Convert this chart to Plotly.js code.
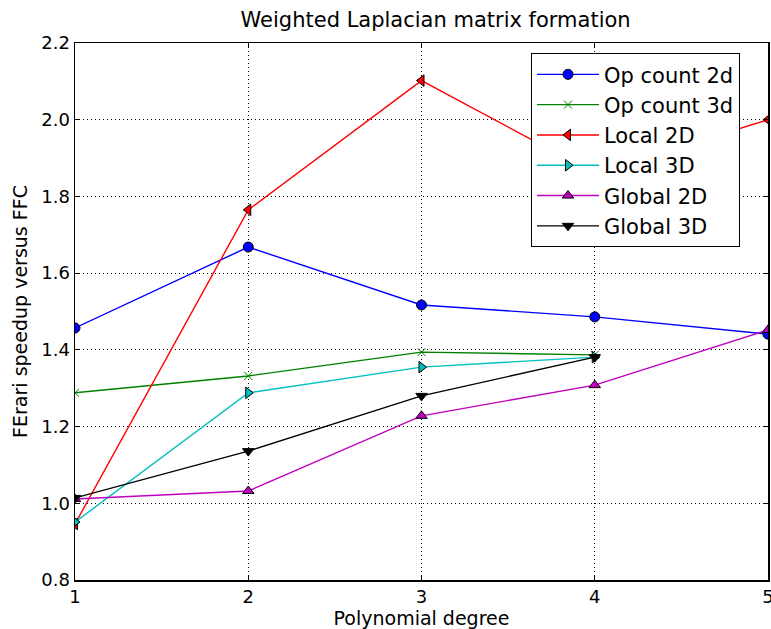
<!DOCTYPE html>
<html>
<head>
<meta charset="utf-8">
<script src="https://cdn.plot.ly/plotly-3.0.1.min.js"></script>
<style>html,body{margin:0;padding:0;background:#fff;}#chart{width:771px;height:629px;}</style>
</head>
<body>
<div id="chart"></div>
<script>
const degrees2D = [1, 2, 3, 4, 5];
const degrees3D = [1, 2, 3, 4];
const opCount2d = [1.457, 1.668, 1.517, 1.486, 1.441];
const opCount3d = [1.288, 1.332, 1.394, 1.387];
const local2D = [0.946, 1.765, 2.102, 1.86, 2.0];
const local3D = [0.951, 1.288, 1.355, 1.381];
const global2D = [1.011, 1.032, 1.228, 1.308, 1.452];
const global3D = [1.014, 1.136, 1.280, 1.381];
const xTicks = [1, 2, 3, 4, 5];
const yTicks = [0.8, 1.0, 1.2, 1.4, 1.6, 1.8, 2.0, 2.2];
const yTickText = ['0.8', '1.0', '1.2', '1.4', '1.6', '1.8', '2.0', '2.2'];

function tr(name, x, y, color, symbol, fill) {
  const isX = symbol === 'x-thin-open';
  return {
    type: 'scatter', mode: 'lines+markers', name: name, x: x, y: y,
    line: {color: color, width: 1.4},
    marker: {
      symbol: symbol, size: isX ? 8 : 10,
      color: fill,
      line: {color: isX ? color : '#000000', width: 1}
    }
  };
}

const data = [
  tr('Op count 2d', degrees2D, opCount2d, '#0000ff', 'circle', '#0000ff'),
  tr('Op count 3d', degrees3D, opCount3d, '#008000', 'x-thin-open', '#008000'),
  tr('Local 2D', degrees2D, local2D, '#ff0000', 'triangle-left', '#ff0000'),
  tr('Local 3D', degrees3D, local3D, '#00bfbf', 'triangle-right', '#00bfbf'),
  tr('Global 2D', degrees2D, global2D, '#bf00bf', 'triangle-up', '#bf00bf'),
  tr('Global 3D', degrees3D, global3D, '#000000', 'triangle-down', '#000000')
];

const axisCommon = {
  showline: true, mirror: 'ticks', linecolor: '#000', linewidth: 1.5,
  ticks: 'inside', ticklen: 5, tickcolor: '#000', tickwidth: 1,
  showgrid: true, gridcolor: '#000', griddash: '1px,3px', gridwidth: 1,
  zeroline: false, ticklabeloverflow: 'allow',
  tickfont: {family: 'DejaVu Sans', size: 18, color: '#000'}
};

const layout = {
  width: 771, height: 629,
  margin: {l: 75, r: 3, t: 43, b: 49},
  paper_bgcolor: '#fff', plot_bgcolor: '#fff',
  font: {family: 'DejaVu Sans', color: '#000'},
  title: {text: 'Weighted Laplacian matrix formation', font: {family: 'DejaVu Sans', size: 21, color: '#000'}, x: 0.565, xanchor: 'center', y: 0.968, yanchor: 'middle'},
  xaxis: Object.assign({}, axisCommon, {
    range: [1, 5], tickvals: xTicks, ticktext: xTicks.map(String),
    title: {text: 'Polynomial degree', font: {family: 'DejaVu Sans', size: 19, color: '#000'}, standoff: 2}
  }),
  yaxis: Object.assign({}, axisCommon, {
    range: [0.8, 2.2], tickvals: yTicks, ticktext: yTickText,
    title: {text: 'FErari speedup versus FFC', font: {family: 'DejaVu Sans', size: 19, color: '#000'}, standoff: 8}
  }),
  showlegend: true,
  legend: {
    x: 0.658, y: 0.981, xanchor: 'left', yanchor: 'top',
    bgcolor: '#fff', bordercolor: '#000', borderwidth: 1,
    font: {family: 'DejaVu Sans', size: 21, color: '#000'},
    tracegroupgap: 0, itemwidth: 62
  }
};

Plotly.newPlot('chart', data, layout, {displayModeBar: false, staticPlot: true});
</script>
</body>
</html>
